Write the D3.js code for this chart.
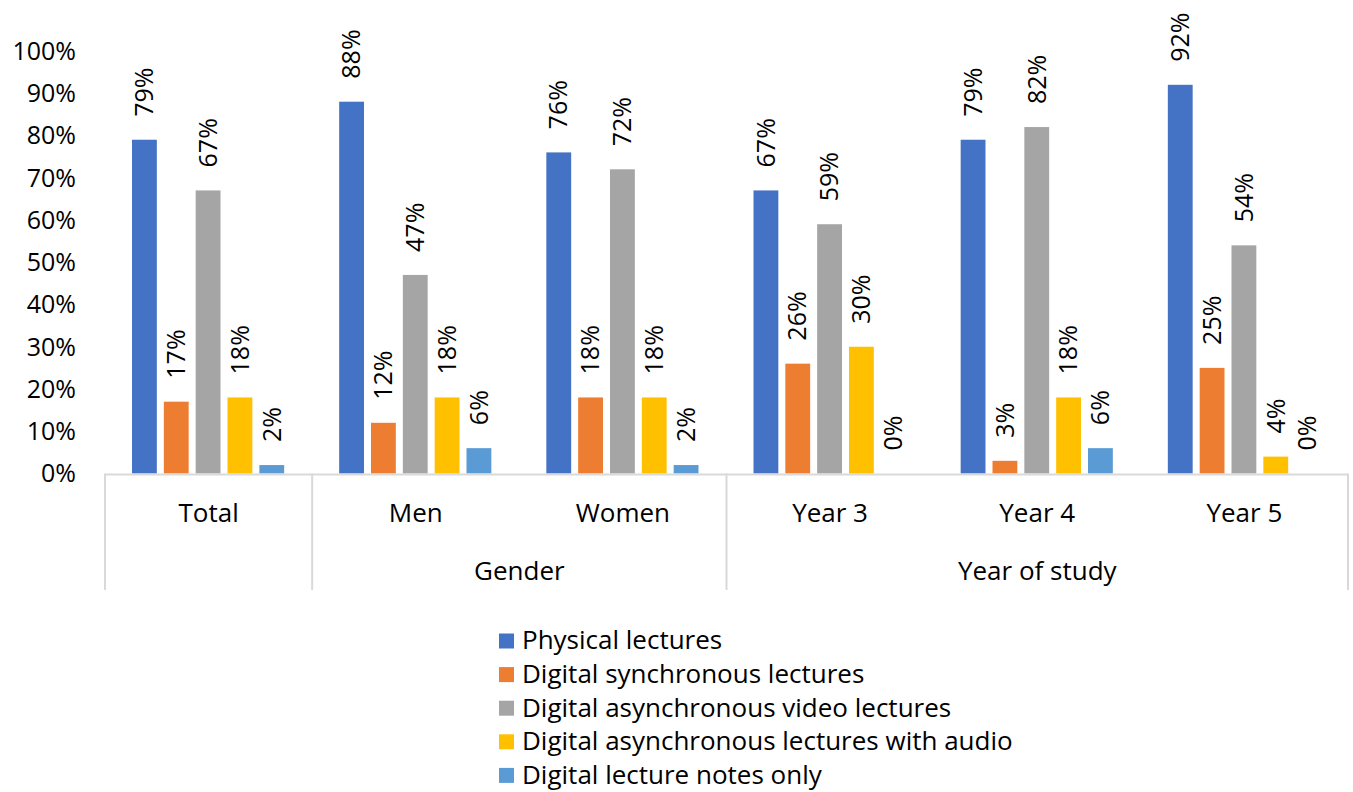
<!DOCTYPE html>
<html>
<head>
<meta charset="utf-8">
<script src="https://cdn.jsdelivr.net/npm/d3@7"></script>
<style>
  body { margin: 0; background: #fff; }
  svg { display: block; font-family: "Open Sans", "Noto Sans", sans-serif; }
</style>
</head>
<body>
<div id="chart"></div>
<script>
// Categories (lower row) and their parent groups (upper row)
const categories = ['Total', 'Men', 'Women', 'Year 3', 'Year 4', 'Year 5'];
const groups = [
  { name: '', from: 'Total', to: 'Total' },
  { name: 'Gender', from: 'Men', to: 'Women' },
  { name: 'Year of study', from: 'Year 3', to: 'Year 5' }
];

const seriesNames = [
  'Physical lectures',
  'Digital synchronous lectures',
  'Digital asynchronous video lectures',
  'Digital asynchronous lectures with audio',
  'Digital lecture notes only'
];
const seriesColors = ['#4472C4', '#ED7D31', '#A5A5A5', '#FFC000', '#5B9BD5'];

// Percentages per category, one array per series
const physical = [79, 88, 76, 67, 79, 92];
const synchronous = [17, 12, 18, 26, 3, 25];
const asyncVideo = [67, 47, 72, 59, 82, 54];
const asyncAudio = [18, 18, 18, 30, 18, 4];
const notesOnly = [2, 6, 2, 0, 6, 0];
const seriesValues = [physical, synchronous, asyncVideo, asyncAudio, notesOnly];

const yTicks = [0, 10, 20, 30, 40, 50, 60, 70, 80, 90, 100];

const width = 1353;
const height = 792;
const plot = { left: 105, right: 1348, top: 51, bottom: 473.5 };
const lineColor = '#d9d9d9';

const svg = d3.select('#chart')
  .append('svg')
  .attr('width', width)
  .attr('height', height);

// Scales
const x0 = d3.scaleBand()
  .domain(categories)
  .range([plot.left, plot.right])
  .padding(0);

const x1 = d3.scaleBand()
  .domain(d3.range(seriesNames.length))
  .range([27, x0.bandwidth() - 28])
  .paddingInner(0.22)
  .paddingOuter(0);

const y = d3.scaleLinear()
  .domain([0, 100])
  .range([plot.bottom, plot.top]);

// Y tick labels (no gridlines, no axis line)
svg.append('g')
  .selectAll('text')
  .data(yTicks)
  .join('text')
  .attr('x', 76)
  .attr('y', d => y(d))
  .attr('dy', '0.35em')
  .attr('text-anchor', 'end')
  .attr('font-size', 25)
  .attr('fill', '#000')
  .text(d => d + '%');

// Bars
const barGroups = svg.append('g')
  .selectAll('g')
  .data(categories)
  .join('g')
  .attr('transform', d => `translate(${x0(d)},0)`);

barGroups.selectAll('rect')
  .data((c, ci) => seriesValues.map((vals, si) => ({ si, v: vals[ci] })))
  .join('rect')
  .attr('x', d => x1(d.si))
  .attr('width', x1.bandwidth())
  .attr('y', d => y(d.v))
  .attr('height', d => y(0) - y(d.v))
  .attr('fill', d => seriesColors[d.si]);

// Rotated value labels
barGroups.selectAll('text')
  .data((c, ci) => seriesValues.map((vals, si) => ({ si, v: vals[ci] })))
  .join('text')
  .attr('transform', d => `translate(${x1(d.si) + x1.bandwidth() / 2},${y(d.v) - 23}) rotate(-90)`)
  .attr('dy', '0.35em')
  .attr('text-anchor', 'start')
  .attr('font-size', 25)
  .attr('fill', '#000')
  .text(d => d.v + '%');

// Category axis: horizontal line and group separators
const axis = svg.append('g');
axis.append('line')
  .attr('x1', plot.left)
  .attr('x2', plot.right)
  .attr('y1', y(0) + 1)
  .attr('y2', y(0) + 1)
  .attr('stroke', lineColor)
  .attr('stroke-width', 2);

const sepXs = [x0(groups[0].from)].concat(groups.map(g => x0(g.to) + x0.bandwidth()));
axis.selectAll('line.sep')
  .data(sepXs)
  .join('line')
  .attr('class', 'sep')
  .attr('x1', d => d)
  .attr('x2', d => d)
  .attr('y1', y(0))
  .attr('y2', 590)
  .attr('stroke', lineColor)
  .attr('stroke-width', 2);

axis.selectAll('text.cat')
  .data(categories)
  .join('text')
  .attr('class', 'cat')
  .attr('x', d => x0(d) + x0.bandwidth() / 2)
  .attr('y', 522)
  .attr('text-anchor', 'middle')
  .attr('font-size', 26)
  .attr('fill', '#000')
  .text(d => d);

axis.selectAll('text.grp')
  .data(groups.filter(g => g.name))
  .join('text')
  .attr('class', 'grp')
  .attr('x', g => (x0(g.from) + x0(g.to) + x0.bandwidth()) / 2)
  .attr('y', 580)
  .attr('text-anchor', 'middle')
  .attr('font-size', 26)
  .attr('fill', '#000')
  .text(g => g.name);

// Legend
const legend = svg.append('g')
  .attr('transform', 'translate(499,641)');

const item = legend.selectAll('g')
  .data(seriesNames)
  .join('g')
  .attr('transform', (d, i) => `translate(0,${i * 33.6})`);

item.append('rect')
  .attr('x', 0)
  .attr('y', -7.5)
  .attr('width', 15)
  .attr('height', 15)
  .attr('fill', (d, i) => seriesColors[i]);

item.append('text')
  .attr('x', 23)
  .attr('y', 0)
  .attr('dy', '0.32em')
  .attr('font-size', 26)
  .attr('fill', '#000')
  .text(d => d);
</script>
</body>
</html>
